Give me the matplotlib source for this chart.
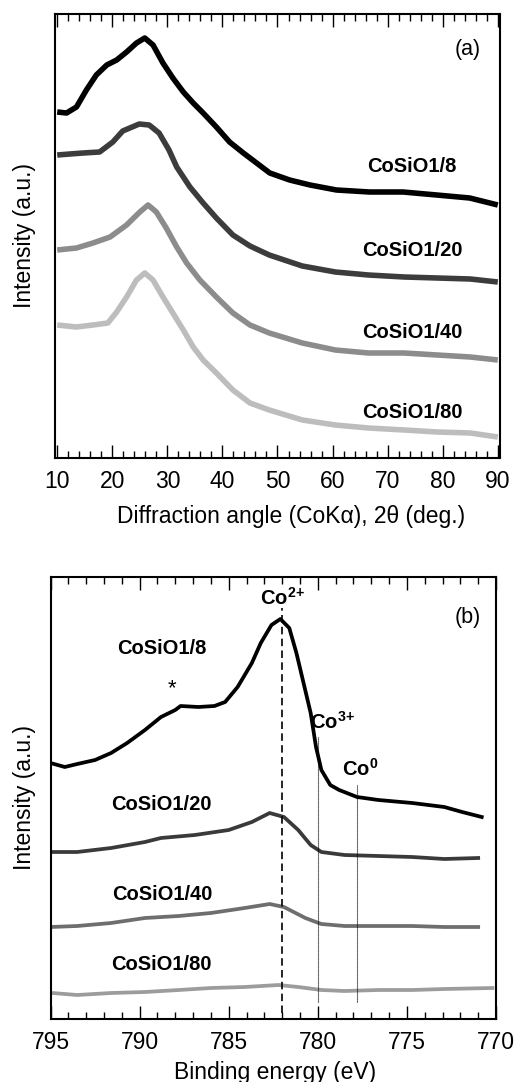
import matplotlib
matplotlib.use("Agg")
import matplotlib.pyplot as plt
from matplotlib.ticker import MultipleLocator

plt.rcParams['font.family'] = ['Liberation Sans', 'DejaVu Sans']
plt.rcParams['mathtext.fontset'] = 'custom'
plt.rcParams['mathtext.rm'] = 'Liberation Sans'
plt.rcParams['mathtext.bf'] = 'Liberation Sans:bold'

# ---------------- (a) XRD data ----------------
xrd_labels = ["CoSiO1/8", "CoSiO1/20", "CoSiO1/40", "CoSiO1/80"]
xrd_colors = ["#000000", "#3c3c3c", "#8c8c8c", "#bdbdbd"]

angle_8 = [10, 11.7, 13.5, 15.3, 17.1, 19.0, 20.8, 22.6, 24.4, 25.9, 27.4, 29.2, 31.0,
           32.9, 34.7, 36.5, 38.9, 41.3, 43.8, 48.6, 52.2, 55.9, 60.7, 66.7, 72.8, 78.9,
           84.9, 90]
int_8 = [346, 345, 351, 368, 383, 393, 398, 406, 415, 420, 413, 395, 380,
         366, 355, 345, 331, 316, 305, 285, 278, 273, 268, 266, 266, 263,
         260, 253]

angle_20 = [10, 12.3, 14.7, 17.7, 20.1, 21.9, 24.9, 26.7, 28.5, 30.3, 31.7, 34.1, 36.5,
            38.9, 41.9, 45.0, 48.5, 54.5, 60.5, 66.5, 73, 79, 85, 90]
int_20 = [303, 304, 305, 306, 316, 327, 334, 333, 325, 308, 291, 271, 255,
          240, 223, 212, 203, 192, 186, 183, 181, 180, 179, 176]

angle_40 = [10, 13.5, 16.5, 19.6, 22.6, 25.0, 26.5, 28.0, 29.8, 31.7, 33.5, 35.9, 38.9,
            41.9, 45.0, 48.5, 54.5, 60.5, 66.5, 73, 79, 85, 90]
int_40 = [208, 210, 215, 221, 233, 246, 253, 246, 230, 211, 195, 178, 161,
          145, 133, 125, 115, 108, 105, 105, 103, 101, 98]

angle_80 = [10, 13.5, 16.5, 19.2, 20.8, 22.6, 24.4, 25.9, 27.4, 29.2, 31.0, 32.9, 34.7,
            36.5, 38.9, 41.9, 45.0, 48.5, 54.5, 60.5, 66.5, 73, 79, 85, 90]
int_80 = [133, 131, 133, 135, 146, 161, 178, 185, 178, 161, 145, 128, 111,
          98, 85, 68, 55, 48, 38, 33, 30, 28, 26, 25, 21]

# ---------------- (b) XPS data ----------------
xps_colors = ["#000000", "#3a3a3a", "#6e6e6e", "#9c9c9c"]

be_8 = [795, 794.2, 793.5, 792.5, 791.6, 790.7, 789.7, 788.8, 788.0, 787.7, 786.7, 785.8,
        785.2, 784.5, 783.7, 783.2, 782.6, 782.1, 781.6, 781.2, 780.8, 780.4, 780.1,
        779.8, 779.3, 778.8, 777.8, 776.6, 774.7, 772.9, 771.9, 770.8]
xps_8 = [256, 252, 255, 259, 266, 276, 289, 302, 309, 313, 312, 313,
         317, 332, 356, 376, 394, 400, 391, 366, 336, 306, 272,
         249, 234, 229, 222, 219, 216, 212, 207, 202]

be_20 = [795, 793.5, 791.6, 789.7, 788.8, 786.9, 785.0, 783.7, 782.7, 781.9, 781.1, 780.4,
         779.8, 778.5, 776.6, 774.7, 772.9, 771.0]
xps_20 = [167, 167, 171, 177, 181, 184, 189, 197, 206, 202, 189, 174,
          167, 164, 163, 162, 160, 161]

be_40 = [795, 793.5, 791.6, 789.7, 787.8, 786.0, 784.1, 782.7, 781.9, 780.7, 779.8, 778.5,
         776.6, 774.7, 772.9, 771.0]
xps_40 = [92, 93, 96, 101, 103, 106, 111, 115, 112, 101, 95, 93,
          93, 93, 92, 92]

be_80 = [794.9, 793.5, 791.6, 789.7, 787.8, 786.0, 784.1, 782.2, 781.1, 779.8, 778.5,
         776.6, 774.7, 772.9, 770.2]
xps_80 = [26, 24, 26, 27, 29, 31, 32, 34, 32, 29, 28,
          29, 29, 30, 31]

xticks_a = [10, 20, 30, 40, 50, 60, 70, 80, 90]
xticks_b = [795, 790, 785, 780, 775, 770]

W, H = 514, 1082
fig = plt.figure(figsize=(W / 100, H / 100), dpi=100)

def style(ax, major, minor):
    for s in ax.spines.values():
        s.set_linewidth(1.5)
    ax.xaxis.set_major_locator(MultipleLocator(major))
    ax.xaxis.set_minor_locator(MultipleLocator(minor))
    ax.tick_params(axis='x', which='both', direction='in', top=True, bottom=True,
                   width=1.0, labelsize=16.5, pad=8.5)
    ax.tick_params(axis='x', which='major', length=9.5)
    ax.tick_params(axis='x', which='minor', length=5)
    ax.tick_params(axis='y', which='both', left=False, right=False, labelleft=False)

# ---- panel (a)
ax1 = fig.add_axes([55 / W, 1 - 458 / H, 445 / W, 444 / H])
for a, i, c in zip([angle_8, angle_20, angle_40, angle_80],
                   [int_8, int_20, int_40, int_80], xrd_colors):
    ax1.plot(a, i, color=c, lw=4.0, solid_joinstyle='round', solid_capstyle='butt')
ax1.set_xlim(9.6, 90.4)
ax1.set_ylim(0, 444)
style(ax1, 10, 2)
ax1.set_xticks(xticks_a)
for lab, y in zip(xrd_labels, [291, 208, 126, 46]):
    ax1.text(74.4, y, lab, ha='center', va='center', fontsize=14.5, fontweight='bold')
ax1.text(84.5, 408, "(a)", ha='center', va='center', fontsize=15.5)

fig.text(291.5 / W, 1 - 523 / H, "Diffraction angle (CoK\u03b1), 2\u03b8 (deg.)",
         ha='center', va='baseline', fontsize=16.5)
fig.text(24 / W, 1 - 236 / H, "Intensity (a.u.)", rotation=90,
         ha='center', va='center', fontsize=16.5)

# ---- panel (b)
ax2 = fig.add_axes([50.5 / W, 1 - 1019 / H, 445.5 / W, 442 / H])
for e, i, c in zip([be_8, be_20, be_40, be_80],
                   [xps_8, xps_20, xps_40, xps_80], xps_colors):
    ax2.plot(e, i, color=c, lw=2.7, solid_joinstyle='round')
ax2.set_xlim(795, 770)
ax2.set_ylim(0, 442)
style(ax2, 5, 1)
ax2.set_xticks(xticks_b)

ax2.vlines(782, 6, 411, colors='k', linestyles=(0, (4.5, 2.6)), lw=1.2)
ax2.vlines(780, 17, 282, colors='k', linestyles=(0, (1, 0.8)), lw=0.8)
ax2.vlines(777.8, 17, 234, colors='k', linestyles=(0, (1, 0.8)), lw=0.8)

ax2.text(782.0, 421, r"$\mathbf{Co}^{\mathbf{2\!+}}$", ha='center', va='center', fontsize=14.5)
ax2.text(779.2, 297, r"$\mathbf{Co}^{\mathbf{3\!+}}$", ha='center', va='center', fontsize=14.5)
ax2.text(777.6, 250, r"$\mathbf{Co}^{\mathbf{0}}$", ha='center', va='center', fontsize=14.5)
ax2.text(771.6, 402, "(b)", ha='center', va='center', fontsize=15.5)
ax2.text(788.2, 330, "*", ha='center', va='center', fontsize=16)

for lab, y in zip(xrd_labels, [371, 214, 124, 54]):
    ax2.text(788.75, y, lab, ha='center', va='center', fontsize=14.5, fontweight='bold')

fig.text(275 / W, 1 - 1079 / H, "Binding energy (eV)", ha='center', va='baseline',
         fontsize=16.5)
fig.text(24 / W, 1 - 798 / H, "Intensity (a.u.)", rotation=90,
         ha='center', va='center', fontsize=16.5)

fig.savefig("out.png", dpi=100)
